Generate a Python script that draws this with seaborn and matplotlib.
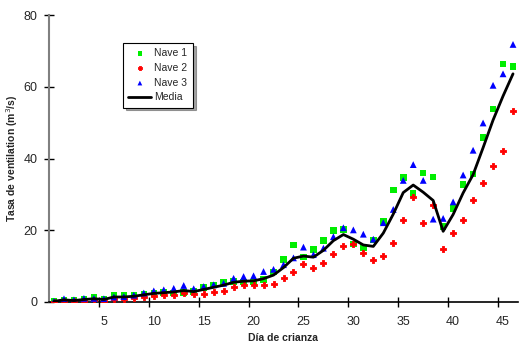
import numpy as np
import pandas as pd
import matplotlib
matplotlib.use("Agg")
import matplotlib.pyplot as plt
import seaborn as sns

days = list(range(47))
nave1 = [0.3, 0.6, 0.4, 0.8, 1.2, 0.9, 2.0, 1.8, 1.8, 2.2, 2.3, 2.6, 2.5, 2.7, 2.9, 4.0,
         4.7, 5.6, 5.7, 5.6, 5.6, 6.3, 8.4, 11.9, 15.9, 12.6, 14.7, 17.2, 19.9, 20.2, 16.2,
         15.2, 17.3, 22.5, 31.2, 34.7, 30.2, 35.9, 34.8, 21.0, 26.1, 32.8, 35.7, 45.9, 53.8,
         66.4, 65.7]
nave2 = [0.1, 0.2, 0.2, 0.3, 0.5, 0.4, 0.9, 0.9, 1.0, 1.3, 1.7, 1.9, 2.0, 2.4, 2.2, 2.3,
         2.9, 3.2, 4.2, 4.6, 4.7, 4.6, 5.0, 6.6, 8.3, 10.6, 9.6, 10.9, 13.3, 15.5, 16.1,
         13.6, 11.7, 12.9, 16.5, 22.8, 29.3, 21.9, 27.0, 14.8, 19.1, 22.9, 28.4, 33.2, 37.8,
         42.1, 53.3]
nave3 = [0.2, 0.9, 0.6, 1.0, 1.0, 0.9, 1.4, 1.5, 1.9, 2.5, 3.1, 3.4, 3.8, 4.6, 3.7, 4.3,
         4.8, 5.2, 6.6, 7.1, 7.3, 8.5, 9.1, 10.4, 12.3, 15.3, 13.2, 15.0, 18.2, 20.7, 20.1,
         18.9, 17.5, 22.1, 25.8, 33.9, 38.3, 33.9, 23.1, 23.3, 27.9, 35.4, 42.3, 49.9, 60.4,
         63.6, 71.8]
media = [0.2, 0.6, 0.4, 0.7, 0.9, 0.7, 1.4, 1.4, 1.6, 2.0, 2.4, 2.6, 2.8, 3.2, 2.9, 3.5,
         4.1, 4.7, 5.5, 5.8, 5.9, 6.5, 7.5, 9.6, 12.2, 12.8, 12.5, 14.4, 17.1, 18.8, 17.5,
         15.9, 15.5, 19.2, 24.5, 30.5, 32.6, 30.6, 28.3, 19.7, 24.4, 30.4, 35.5, 43.0, 50.7,
         57.4, 63.6]
x_tick_labels = [5, 10, 15, 20, 25, 30, 35, 40, 45]
y_ticks = [0, 20, 40, 60, 80]

sns.set_style("white")
plt.rcParams['font.family'] = ['Liberation Sans', 'DejaVu Sans']

fig = plt.figure(figsize=(5.19, 3.51), dpi=100)
ax = fig.add_axes([49/519, 49/351, 469/519, 287/351])

df = pd.DataFrame({"Día": days, "Nave 1": nave1, "Nave 2": nave2,
                   "Nave 3": nave3, "Media": media})

sns.scatterplot(data=df, x="Día", y="Nave 1", ax=ax, marker="s", s=22,
                color="#00ee00", edgecolor="none", label="Nave 1", zorder=3)
sns.scatterplot(data=df, x="Día", y="Nave 2", ax=ax, marker="P", s=24,
                color="#ff0000", edgecolor="#ff0000", linewidth=0.6, label="Nave 2", zorder=3)
sns.scatterplot(data=df, x="Día", y="Nave 3", ax=ax, marker="^", s=24,
                color="#0000ff", edgecolor="none", label="Nave 3", zorder=3)
sns.lineplot(data=df, x="Día", y="Media", ax=ax, color="black", linewidth=2,
             label="Media", zorder=4)

ax.set_xlim(-0.5, 46.5)
ax.set_ylim(0, 80)
ax.set_yticks(y_ticks)
ax.set_yticklabels([str(v) for v in y_ticks], fontsize=9)
ax.set_xticks([t - 0.5 for t in x_tick_labels])
ax.set_xticklabels([])
ax.set_xticks(x_tick_labels, minor=True)
ax.set_xticklabels([str(v) for v in x_tick_labels], minor=True, fontsize=9)
ax.tick_params(axis="x", which="major", direction="inout", length=7, width=1,
               color="black", bottom=True)
ax.tick_params(axis="x", which="minor", length=0, pad=10, bottom=True)
ax.tick_params(axis="y", which="major", direction="inout", length=7, width=1,
               color="black", left=True, pad=5)

for s in ["top", "right"]:
    ax.spines[s].set_visible(False)
ax.spines["left"].set_color("#808080")
ax.spines["left"].set_linewidth(1.5)
ax.spines["bottom"].set_color("black")
ax.spines["bottom"].set_linewidth(1.2)

ax.set_xlabel("Día de crianza", fontsize=7.5, fontweight="bold", labelpad=4)
ax.set_ylabel("Tasa de ventilation (m$^3$/s)", fontsize=7.5, fontweight="bold", labelpad=2)

handles, labels = ax.get_legend_handles_labels()
ax.get_legend().remove()
leg = fig.legend(handles=handles, labels=labels, loc="upper left",
                 bbox_to_anchor=(118/519, (351-38)/351),
                 fontsize=7.5, frameon=True, fancybox=False, shadow=True,
                 handlelength=2.2, handletextpad=0.3, borderpad=0.5, labelspacing=0.45,
                 markerscale=0.7)
leg.get_frame().set_edgecolor("black")
leg.get_frame().set_linewidth(0.8)

fig.savefig("out.png", dpi=100)
